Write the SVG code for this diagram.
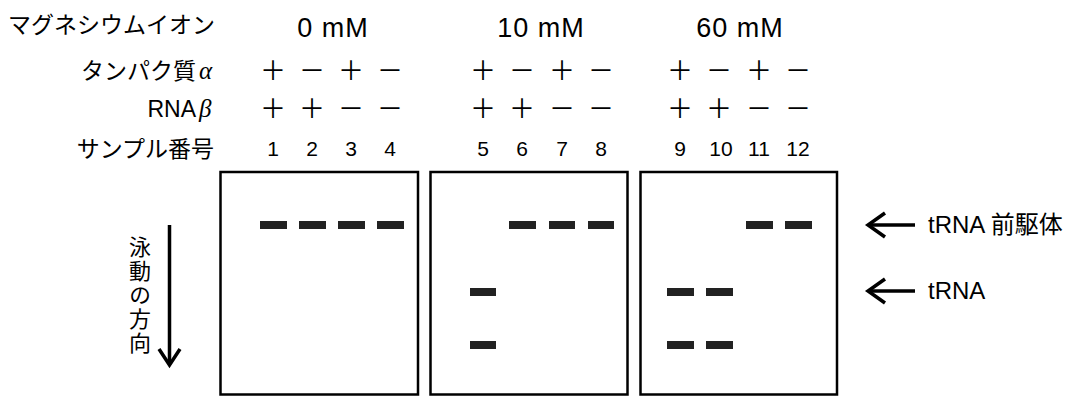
<svg xmlns="http://www.w3.org/2000/svg" width="1066" height="396" viewBox="0 0 1066 396">
<style>
  text { font-family: "Liberation Sans", "Noto Sans CJK JP", sans-serif; fill: #000; }
  .jp { font-family: "Noto Sans CJK JP", sans-serif; font-size: 23px; }
  .lbl { font-size: 23px; text-anchor: end; }
  .conc { font-size: 27px; text-anchor: middle; letter-spacing: 1px; }
  .pm { font-family: "Noto Sans CJK JP", sans-serif; font-size: 26px; text-anchor: middle; }
  .num { font-size: 21px; text-anchor: middle; }
  .greek { font-family: "Liberation Serif", serif; font-style: italic; font-size: 25px; }
  .gel { fill: #fff; stroke: #000; stroke-width: 2.5; }
  .band { fill: #222; }
  .arr { fill: none; stroke: #000; stroke-width: 3.5; stroke-linecap: butt; stroke-linejoin: miter; }
  .side { font-size: 24px; }
</style>

<g id="labels">
  <text class="jp" x="8" y="33">マグネシウムイオン</text>
  <text class="lbl jp" x="196" y="79" style="text-anchor:end">タンパク質</text>
  <text class="greek" x="199" y="79">α</text>
  <text class="lbl" x="196" y="117">RNA</text>
  <text class="greek" x="199" y="117">β</text>
  <text class="lbl jp" x="214" y="157" style="text-anchor:end">サンプル番号</text>
</g>

<g id="concentrations">
  <text class="conc" x="333" y="37">0 mM</text>
  <text class="conc" x="541" y="37">10 mM</text>
  <text class="conc" x="740" y="37">60 mM</text>
</g>

<g id="protein-row">
  <text class="pm" x="273" y="80">＋</text>
  <text class="pm" x="312" y="80">－</text>
  <text class="pm" x="351" y="80">＋</text>
  <text class="pm" x="390" y="80">－</text>
  <text class="pm" x="483" y="80">＋</text>
  <text class="pm" x="522" y="80">－</text>
  <text class="pm" x="562" y="80">＋</text>
  <text class="pm" x="601" y="80">－</text>
  <text class="pm" x="680" y="80">＋</text>
  <text class="pm" x="719" y="80">－</text>
  <text class="pm" x="759" y="80">＋</text>
  <text class="pm" x="798" y="80">－</text>
</g>

<g id="rna-row">
  <text class="pm" x="273" y="118">＋</text>
  <text class="pm" x="312" y="118">＋</text>
  <text class="pm" x="351" y="118">－</text>
  <text class="pm" x="390" y="118">－</text>
  <text class="pm" x="483" y="118">＋</text>
  <text class="pm" x="522" y="118">＋</text>
  <text class="pm" x="562" y="118">－</text>
  <text class="pm" x="601" y="118">－</text>
  <text class="pm" x="680" y="118">＋</text>
  <text class="pm" x="719" y="118">＋</text>
  <text class="pm" x="759" y="118">－</text>
  <text class="pm" x="798" y="118">－</text>
</g>

<g id="sample-numbers">
  <text class="num" x="273" y="156">1</text>
  <text class="num" x="312" y="156">2</text>
  <text class="num" x="351" y="156">3</text>
  <text class="num" x="390" y="156">4</text>
  <text class="num" x="483" y="156">5</text>
  <text class="num" x="522" y="156">6</text>
  <text class="num" x="562" y="156">7</text>
  <text class="num" x="601" y="156">8</text>
  <text class="num" x="680" y="156">9</text>
  <text class="num" x="721" y="156">10</text>
  <text class="num" x="759" y="156">11</text>
  <text class="num" x="798" y="156">12</text>
</g>

<g id="gel-0mM">
  <rect class="gel" x="220.5" y="172" width="197.5" height="222.5"/>
  <rect class="band" x="260" y="221" width="27" height="8"/>
  <rect class="band" x="299" y="221" width="27" height="8"/>
  <rect class="band" x="338" y="221" width="27" height="8"/>
  <rect class="band" x="377" y="221" width="27" height="8"/>
</g>

<g id="gel-10mM">
  <rect class="gel" x="430.5" y="172" width="197" height="222.5"/>
  <rect class="band" x="470" y="288" width="26" height="8"/>
  <rect class="band" x="470" y="341" width="26" height="8"/>
  <rect class="band" x="509" y="221" width="27" height="8"/>
  <rect class="band" x="549" y="221" width="26" height="8"/>
  <rect class="band" x="588" y="221" width="26" height="8"/>
</g>

<g id="gel-60mM">
  <rect class="gel" x="640.5" y="172" width="196.5" height="222.5"/>
  <rect class="band" x="667" y="288" width="27" height="8"/>
  <rect class="band" x="667" y="341" width="27" height="8"/>
  <rect class="band" x="706" y="288" width="27" height="8"/>
  <rect class="band" x="706" y="341" width="27" height="8"/>
  <rect class="band" x="746" y="221" width="27" height="8"/>
  <rect class="band" x="785" y="221" width="27" height="8"/>
</g>

<g id="direction">
  <text class="jp" x="140" y="236" writing-mode="vertical-rl" style="font-size:22px;letter-spacing:2px">泳動の方向</text>
</g>

<g id="connectors">
  <line class="arr" x1="169.5" y1="225" x2="169.5" y2="364"/>
  <polyline class="arr" points="159,349 169.5,365 180,349"/>
  <line class="arr" x1="869" y1="225" x2="915" y2="225"/>
  <polyline class="arr" points="885,213 868,225 885,237"/>
  <line class="arr" x1="869" y1="291" x2="915" y2="291"/>
  <polyline class="arr" points="885,279 868,291 885,303"/>
</g>

<g id="markers">
  <text class="side" x="928" y="233">tRNA <tspan class="jp" style="font-size:24px">前駆体</tspan></text>
  <text class="side" x="928" y="299">tRNA</text>
</g>
</svg>
